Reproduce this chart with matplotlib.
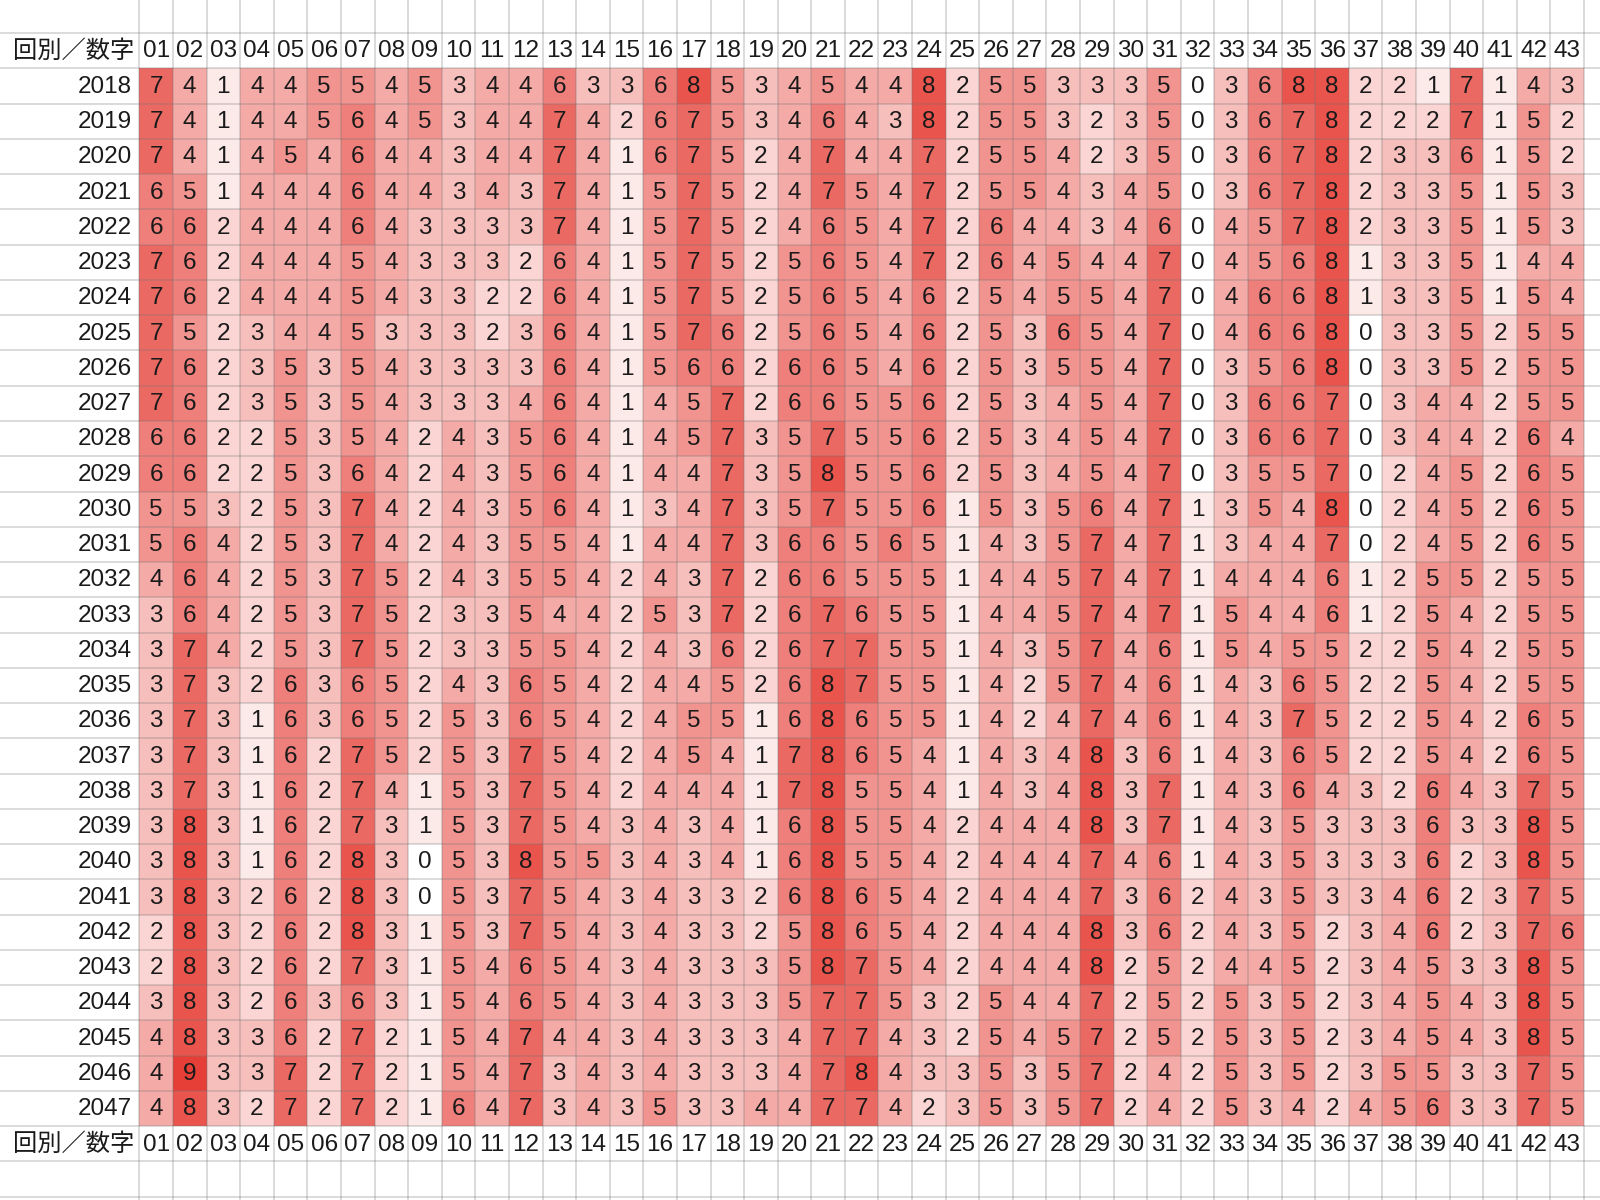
import numpy as np
import matplotlib
matplotlib.use("Agg")
import matplotlib.pyplot as plt
from matplotlib import font_manager
from matplotlib.colors import LinearSegmentedColormap

# Data
years = list(range(2018, 2048))
numbers = [f"{i:02d}" for i in range(1, 44)]
corner_label = "回別／数字"

counts = [
    [7,4,1,4,4,5,5,4,5,3,4,4,6,3,3,6,8,5,3,4, 5,4,4,8,2,5,5,3,3,3,5,0,3,6,8,8,2,2,1,7,1,4,3],
    [7,4,1,4,4,5,6,4,5,3,4,4,7,4,2,6,7,5,3,4, 6,4,3,8,2,5,5,3,2,3,5,0,3,6,7,8,2,2,2,7,1,5,2],
    [7,4,1,4,5,4,6,4,4,3,4,4,7,4,1,6,7,5,2,4, 7,4,4,7,2,5,5,4,2,3,5,0,3,6,7,8,2,3,3,6,1,5,2],
    [6,5,1,4,4,4,6,4,4,3,4,3,7,4,1,5,7,5,2,4, 7,5,4,7,2,5,5,4,3,4,5,0,3,6,7,8,2,3,3,5,1,5,3],
    [6,6,2,4,4,4,6,4,3,3,3,3,7,4,1,5,7,5,2,4, 6,5,4,7,2,6,4,4,3,4,6,0,4,5,7,8,2,3,3,5,1,5,3],
    [7,6,2,4,4,4,5,4,3,3,3,2,6,4,1,5,7,5,2,5, 6,5,4,7,2,6,4,5,4,4,7,0,4,5,6,8,1,3,3,5,1,4,4],
    [7,6,2,4,4,4,5,4,3,3,2,2,6,4,1,5,7,5,2,5, 6,5,4,6,2,5,4,5,5,4,7,0,4,6,6,8,1,3,3,5,1,5,4],
    [7,5,2,3,4,4,5,3,3,3,2,3,6,4,1,5,7,6,2,5, 6,5,4,6,2,5,3,6,5,4,7,0,4,6,6,8,0,3,3,5,2,5,5],
    [7,6,2,3,5,3,5,4,3,3,3,3,6,4,1,5,6,6,2,6, 6,5,4,6,2,5,3,5,5,4,7,0,3,5,6,8,0,3,3,5,2,5,5],
    [7,6,2,3,5,3,5,4,3,3,3,4,6,4,1,4,5,7,2,6, 6,5,5,6,2,5,3,4,5,4,7,0,3,6,6,7,0,3,4,4,2,5,5],
    [6,6,2,2,5,3,5,4,2,4,3,5,6,4,1,4,5,7,3,5, 7,5,5,6,2,5,3,4,5,4,7,0,3,6,6,7,0,3,4,4,2,6,4],
    [6,6,2,2,5,3,6,4,2,4,3,5,6,4,1,4,4,7,3,5, 8,5,5,6,2,5,3,4,5,4,7,0,3,5,5,7,0,2,4,5,2,6,5],
    [5,5,3,2,5,3,7,4,2,4,3,5,6,4,1,3,4,7,3,5, 7,5,5,6,1,5,3,5,6,4,7,1,3,5,4,8,0,2,4,5,2,6,5],
    [5,6,4,2,5,3,7,4,2,4,3,5,5,4,1,4,4,7,3,6, 6,5,6,5,1,4,3,5,7,4,7,1,3,4,4,7,0,2,4,5,2,6,5],
    [4,6,4,2,5,3,7,5,2,4,3,5,5,4,2,4,3,7,2,6, 6,5,5,5,1,4,4,5,7,4,7,1,4,4,4,6,1,2,5,5,2,5,5],
    [3,6,4,2,5,3,7,5,2,3,3,5,4,4,2,5,3,7,2,6, 7,6,5,5,1,4,4,5,7,4,7,1,5,4,4,6,1,2,5,4,2,5,5],
    [3,7,4,2,5,3,7,5,2,3,3,5,5,4,2,4,3,6,2,6, 7,7,5,5,1,4,3,5,7,4,6,1,5,4,5,5,2,2,5,4,2,5,5],
    [3,7,3,2,6,3,6,5,2,4,3,6,5,4,2,4,4,5,2,6, 8,7,5,5,1,4,2,5,7,4,6,1,4,3,6,5,2,2,5,4,2,5,5],
    [3,7,3,1,6,3,6,5,2,5,3,6,5,4,2,4,5,5,1,6, 8,6,5,5,1,4,2,4,7,4,6,1,4,3,7,5,2,2,5,4,2,6,5],
    [3,7,3,1,6,2,7,5,2,5,3,7,5,4,2,4,5,4,1,7, 8,6,5,4,1,4,3,4,8,3,6,1,4,3,6,5,2,2,5,4,2,6,5],
    [3,7,3,1,6,2,7,4,1,5,3,7,5,4,2,4,4,4,1,7, 8,5,5,4,1,4,3,4,8,3,7,1,4,3,6,4,3,2,6,4,3,7,5],
    [3,8,3,1,6,2,7,3,1,5,3,7,5,4,3,4,3,4,1,6, 8,5,5,4,2,4,4,4,8,3,7,1,4,3,5,3,3,3,6,3,3,8,5],
    [3,8,3,1,6,2,8,3,0,5,3,8,5,5,3,4,3,4,1,6, 8,5,5,4,2,4,4,4,7,4,6,1,4,3,5,3,3,3,6,2,3,8,5],
    [3,8,3,2,6,2,8,3,0,5,3,7,5,4,3,4,3,3,2,6, 8,6,5,4,2,4,4,4,7,3,6,2,4,3,5,3,3,4,6,2,3,7,5],
    [2,8,3,2,6,2,8,3,1,5,3,7,5,4,3,4,3,3,2,5, 8,6,5,4,2,4,4,4,8,3,6,2,4,3,5,2,3,4,6,2,3,7,6],
    [2,8,3,2,6,2,7,3,1,5,4,6,5,4,3,4,3,3,3,5, 8,7,5,4,2,4,4,4,8,2,5,2,4,4,5,2,3,4,5,3,3,8,5],
    [3,8,3,2,6,3,6,3,1,5,4,6,5,4,3,4,3,3,3,5, 7,7,5,3,2,5,4,4,7,2,5,2,5,3,5,2,3,4,5,4,3,8,5],
    [4,8,3,3,6,2,7,2,1,5,4,7,4,4,3,4,3,3,3,4, 7,7,4,3,2,5,4,5,7,2,5,2,5,3,5,2,3,4,5,4,3,8,5],
    [4,9,3,3,7,2,7,2,1,5,4,7,3,4,3,4,3,3,3,4, 7,8,4,3,3,5,3,5,7,2,4,2,5,3,5,2,3,5,5,3,3,7,5],
    [4,8,3,2,7,2,7,2,1,6,4,7,3,4,3,5,3,3,4,4, 7,7,4,2,3,5,3,5,7,2,4,2,5,3,4,2,4,5,6,3,3,7,5],
]
Z = np.array(counts)
n_rows, n_cols = Z.shape

# fonts: condensed latin face if there is one, CJK fallback for the corner label
def has_font(name):
    try:
        font_manager.findfont(name, fallback_to_default=False)
        return True
    except Exception:
        return False

latin = "Liberation Sans Narrow" if has_font("Liberation Sans Narrow") else "Liberation Sans"
fam = [latin, "Noto Sans CJK JP", "DejaVu Sans"]
plt.rcParams["font.family"] = fam

# sheet geometry (in cell units)
col_w = 33.6
row_h = 35.26
left_px = 139.3
top_px = 68.4
W, H = 1600, 1200

fig = plt.figure(figsize=(16, 12), dpi=100)
ax = fig.add_axes([0, 0, 1, 1])
ax.set_xlim(-left_px / col_w, (W - left_px) / col_w)
ax.set_ylim((H - top_px) / row_h, -top_px / row_h)
ax.axis("off")

cmap = LinearSegmentedColormap.from_list("wr", ["#FFFFFF", "#E63F37"])
ax.pcolormesh(np.arange(n_cols + 1), np.arange(n_rows + 1), Z,
              cmap=cmap, vmin=0, vmax=9, shading="flat", zorder=1)

# gridlines
x0, x1 = ax.get_xlim()
y1, y0 = ax.get_ylim()
grid_c = (0.45, 0.45, 0.45, 0.3)
for r in range(-2, n_rows + 4):
    ax.plot([x0, x1], [r, r], color=grid_c, lw=1.2, zorder=2)
for c in range(0, n_cols + 2):
    ax.plot([c, c], [y0, y1], color=grid_c, lw=1.2, zorder=2)

fs = 17.5
tc = "#1a1a1a"
for i in range(n_rows):
    for j in range(n_cols):
        ax.text(j + 0.5, i + 0.52, str(Z[i, j]), ha="center", va="center",
                fontsize=fs, color=tc, zorder=3)
    ax.text(-0.22, i + 0.52, str(years[i]), ha="right", va="center",
            fontsize=fs, color=tc, zorder=3)

for hr in (-1, n_rows):
    for j, lab in enumerate(numbers):
        ax.text(j + 0.5, hr + 0.52, lab, ha="center", va="center",
                fontsize=fs, color=tc, zorder=3)
    ax.text(-0.16, hr + 0.52, corner_label, ha="right", va="center",
            fontsize=fs, color=tc, zorder=3, family=fam)

fig.savefig("out.png", dpi=100, facecolor="white")
